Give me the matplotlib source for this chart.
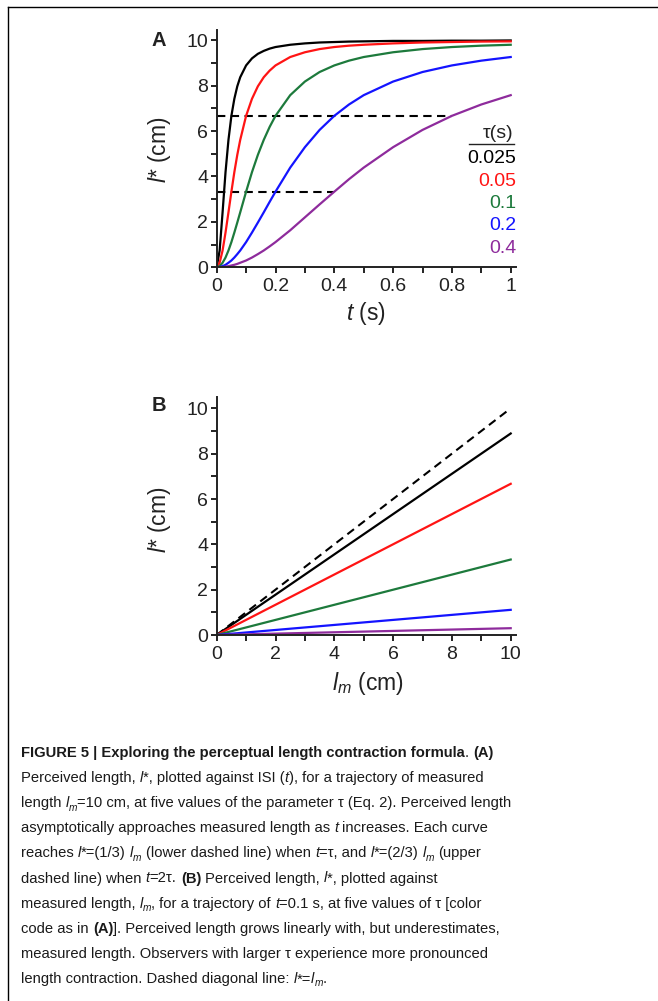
import matplotlib
matplotlib.use("Agg")
import matplotlib.pyplot as plt
from matplotlib.ticker import MultipleLocator
from matplotlib.lines import Line2D
from matplotlib.font_manager import FontProperties, fontManager

# ---- data ----
tau_labels = ["0.025", "0.05", "0.1", "0.2", "0.4"]
colors = ["#000000", "#ff1414", "#1d7a3c", "#1414ff", "#8e2b9c"]

t_A = [0, 0.01, 0.02, 0.03, 0.04, 0.05, 0.06, 0.07, 0.08, 0.1, 0.12, 0.14, 0.16,
       0.18, 0.2, 0.25, 0.3, 0.35, 0.4, 0.45, 0.5, 0.6, 0.7, 0.8, 0.9, 1.0]
l_tau_025 = [0, 0.74, 2.42, 4.19, 5.61, 6.67, 7.42, 7.97, 8.37, 8.89, 9.20, 9.40, 9.53,
             9.63, 9.70, 9.80, 9.86, 9.90, 9.92, 9.94, 9.95, 9.97, 9.97, 9.98, 9.98, 9.99]
l_tau_05 = [0, 0.20, 0.74, 1.53, 2.42, 3.33, 4.19, 4.95, 5.61, 6.67, 7.42, 7.97, 8.37,
            8.66, 8.89, 9.26, 9.47, 9.61, 9.70, 9.76, 9.80, 9.86, 9.90, 9.92, 9.94, 9.95]
l_tau_1 = [0, 0.05, 0.20, 0.43, 0.74, 1.11, 1.53, 1.97, 2.42, 3.33, 4.19, 4.95, 5.61,
           6.18, 6.67, 7.58, 8.18, 8.60, 8.89, 9.10, 9.26, 9.47, 9.61, 9.70, 9.76, 9.80]
l_tau_2 = [0, 0.01, 0.05, 0.11, 0.20, 0.30, 0.43, 0.58, 0.74, 1.11, 1.53, 1.97, 2.42,
           2.88, 3.33, 4.39, 5.29, 6.05, 6.67, 7.17, 7.58, 8.18, 8.60, 8.89, 9.10, 9.26]
l_tau_4 = [0, 0.00, 0.01, 0.03, 0.05, 0.08, 0.11, 0.15, 0.20, 0.30, 0.43, 0.58, 0.74,
           0.92, 1.11, 1.63, 2.20, 2.77, 3.33, 3.88, 4.39, 5.29, 6.05, 6.67, 7.17, 7.58]
curves_A = [l_tau_025, l_tau_05, l_tau_1, l_tau_2, l_tau_4]

guide_levels = [6.67, 3.33]      # (2/3) lm and (1/3) lm
guide_t_end = [0.8, 0.4]

lm_B = [0, 10]
lB_025 = [0, 8.89]
lB_05 = [0, 6.67]
lB_1 = [0, 3.33]
lB_2 = [0, 1.11]
lB_4 = [0, 0.30]
curves_B = [lB_025, lB_05, lB_1, lB_2, lB_4]
diag_B = [0, 10]

xticks_A = [0, 0.2, 0.4, 0.6, 0.8, 1.0]
xticklabels_A = ["0", "0.2", "0.4", "0.6", "0.8", "1"]
xticks_B = [0, 2, 4, 6, 8, 10]
xticklabels_B = ["0", "2", "4", "6", "8", "10"]
yticks = [0, 2, 4, 6, 8, 10]
yticklabels = ["0", "2", "4", "6", "8", "10"]

# ---- figure ----
W, H = 658, 1001
plt.rcParams["font.family"] = ["Liberation Sans", "DejaVu Sans"]
plt.rcParams["mathtext.fontset"] = "custom"
plt.rcParams["mathtext.rm"] = "Liberation Sans"
plt.rcParams["mathtext.it"] = "Liberation Sans:italic"
plt.rcParams["mathtext.bf"] = "Liberation Sans:bold"
ink = "#222222"
tick_fs = 14
label_fs = 16.5

fig = plt.figure(figsize=(W / 100, H / 100), dpi=100)
fig.patch.set_facecolor("white")


def px_axes(left, top, right, bottom):
    return fig.add_axes([left / W, 1 - bottom / H, (right - left) / W, (bottom - top) / H])


def style_axes(ax, xticks, xlabels, xminor):
    for s in ["top", "right"]:
        ax.spines[s].set_visible(False)
    for s in ["left", "bottom"]:
        ax.spines[s].set_linewidth(1.4)
        ax.spines[s].set_color(ink)
    ax.set_xticks(xticks)
    ax.set_xticklabels(xlabels)
    ax.set_yticks(yticks)
    ax.set_yticklabels(yticklabels)
    ax.xaxis.set_minor_locator(MultipleLocator(xminor))
    ax.yaxis.set_minor_locator(MultipleLocator(1))
    ax.tick_params(which="both", direction="out", length=4.5, width=1.4, color=ink)
    ax.tick_params(axis="x", pad=3.5, labelsize=tick_fs, labelcolor=ink)
    ax.tick_params(axis="y", pad=1.5, labelsize=tick_fs, labelcolor=ink)
    ax.patch.set_alpha(0)


# panel A
axA = px_axes(216.7, 30, 516, 267.3)
axA.set_xlim(0, 1.018)
axA.set_ylim(0, 10.45)
for lev, te in zip(guide_levels, guide_t_end):
    axA.plot([0, te], [lev, lev], color="black", lw=1.5, dashes=(4, 2.6), zorder=1)
for y, c in zip(curves_A, colors):
    axA.plot(t_A, y, color=c, lw=1.6, solid_joinstyle="round", zorder=2)
style_axes(axA, xticks_A, xticklabels_A, 0.1)
axA.set_xlabel(r"$t$ (s)", fontsize=label_fs, color=ink)
axA.xaxis.set_label_coords(0.497, -0.195)
axA.xaxis.label.set_va("center")
axA.set_ylabel(r"$l$* (cm)", fontsize=label_fs, color=ink)
axA.yaxis.set_label_coords(-0.19, 0.495)
axA.yaxis.label.set_va("center")

# legend of panel A
fig.text(513 / W, 1 - 134 / H, "τ(s)", fontsize=tick_fs, color=ink, ha="right", va="center")
fig.add_artist(Line2D([469 / W, 514 / W], [1 - 144 / H, 1 - 144 / H], color=ink, lw=1.0))
for i, (lab, c) in enumerate(zip(tau_labels, colors)):
    fig.text(516 / W, 1 - (158.5 + 22.5 * i) / H, lab, fontsize=tick_fs, color=c,
             ha="right", va="center")

# panel B
axB = px_axes(216.7, 397, 516, 635)
axB.set_xlim(0, 10.18)
axB.set_ylim(0, 10.5)
axB.plot(lm_B, diag_B, color="black", lw=1.5, dashes=(4, 2.6), zorder=1)
for y, c in zip(curves_B, colors):
    axB.plot(lm_B, y, color=c, lw=1.6, zorder=2)
style_axes(axB, xticks_B, xticklabels_B, 1)
axB.set_xlabel(r"$l_m$ (cm)", fontsize=label_fs, color=ink)
axB.xaxis.set_label_coords(0.505, -0.205)
axB.xaxis.label.set_va("center")
axB.set_ylabel(r"$l$* (cm)", fontsize=label_fs, color=ink)
axB.yaxis.set_label_coords(-0.19, 0.483)
axB.yaxis.label.set_va("center")

fig.text(152 / W, 1 - 40.5 / H, "A", fontsize=14.5, fontweight="bold", color=ink, va="center")
fig.text(152 / W, 1 - 405.5 / H, "B", fontsize=14.5, fontweight="bold", color=ink, va="center")

# frame lines (top and left)
fig.add_artist(Line2D([8 / W, 1], [1 - 7 / H, 1 - 7 / H], color="black", lw=1.0))
fig.add_artist(Line2D([8 / W, 8 / W], [1 - 7 / H, 0], color="black", lw=1.0))

# ---- caption ----
names = {f.name for f in fontManager.ttflist}
cap_family = "Liberation Sans Narrow" if "Liberation Sans Narrow" in names else "Liberation Sans"
cap_color = "#1a1a1a"

caption = [
    [("FIGURE 5 | Exploring the perceptual length contraction formula", "b"), (". ", "r"), ("(A)", "b")],
    [("Perceived length, ", "r"), ("l", "i"), ("*, plotted against ISI (", "r"), ("t", "i"),
     ("), for a trajectory of measured", "r")],
    [("length ", "r"), ("l", "i"), ("m", "s"), ("=10 cm, at five values of the parameter τ (Eq. 2). Perceived length", "r")],
    [("asymptotically approaches measured length as ", "r"), ("t", "i"), (" increases. Each curve", "r")],
    [("reaches ", "r"), ("l", "i"), ("*=(1/3) ", "r"), ("l", "i"), ("m", "s"),
     (" (lower dashed line) when ", "r"), ("t", "i"), ("=τ, and ", "r"), ("l", "i"),
     ("*=(2/3) ", "r"), ("l", "i"), ("m", "s"), (" (upper", "r")],
    [("dashed line) when ", "r"), ("t", "i"), ("=2τ. ", "r"), ("(B)", "b"),
     (" Perceived length, ", "r"), ("l", "i"), ("*, plotted against", "r")],
    [("measured length, ", "r"), ("l", "i"), ("m", "s"), (", for a trajectory of ", "r"), ("t", "i"),
     ("=0.1 s, at five values of τ [color", "r")],
    [("code as in ", "r"), ("(A)", "b"), ("]. Perceived length grows linearly with, but underestimates,", "r")],
    [("measured length. Observers with larger τ experience more pronounced", "r")],
    [("length contraction. Dashed diagonal line: ", "r"), ("l", "i"), ("*=", "r"), ("l", "i"), ("m", "s"), (".", "r")],
]

renderer = fig.canvas.get_renderer()


def make_prop(style, size):
    fam = [cap_family, "DejaVu Sans"]
    if style == "b":
        return FontProperties(family=fam, weight="bold", size=size)
    if style == "i":
        return FontProperties(family=fam, style="italic", size=size)
    if style == "s":
        return FontProperties(family=fam, style="italic", size=size * 0.68)
    return FontProperties(family=fam, size=size)


def text_w(s, prop):
    w1, _, _ = renderer.get_text_width_height_descent("|" + s + "|", prop, ismath=False)
    w0, _, _ = renderer.get_text_width_height_descent("||", prop, ismath=False)
    return w1 - w0


def line_w(runs, size):
    return sum(text_w(s, make_prop(st, size)) for s, st in runs)


# fit font size so the longest line spans the same width as in the figure
cap_size = 10 * 492 / line_w(caption[2], 10)

x0, y0, dy = 21, 757, 25.1
for i, runs in enumerate(caption):
    x = x0
    yb = y0 + dy * i
    for s, st in runs:
        prop = make_prop(st, cap_size)
        core = s.strip(" ")
        lead = len(s) - len(s.lstrip(" "))
        trail = len(s) - len(s.rstrip(" "))
        if lead:
            x += text_w(" " * lead, prop)
        yy = yb + (3.5 if st == "s" else 0)
        fig.text(x / W, 1 - yy / H, core, fontproperties=prop, color=cap_color,
                 ha="left", va="baseline")
        x += text_w(core, prop)
        if trail:
            x += text_w(" " * trail, prop)

fig.savefig("out.png", dpi=100, facecolor="white")
